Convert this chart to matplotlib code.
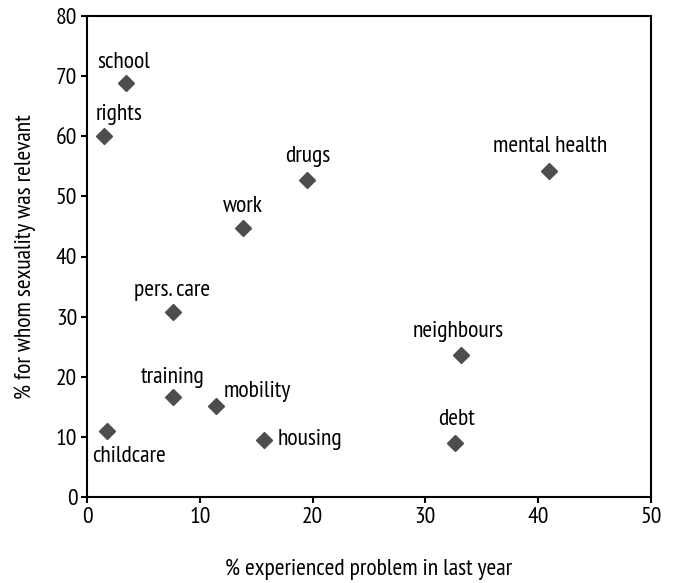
import matplotlib
matplotlib.use('Agg')
import matplotlib.pyplot as plt

plt.rcParams['font.family'] = ['PT Sans Narrow', 'DejaVu Sans']

# problem areas
labels = ['school', 'rights', 'drugs', 'work', 'pers. care', 'neighbours',
          'mental health', 'debt', 'training', 'mobility', 'housing', 'childcare']
# % experienced problem in last year
experienced = [3.5, 1.5, 19.5, 13.8, 7.6, 33.2, 41.0, 32.6, 7.6, 11.4, 15.7, 1.8]
# % for whom sexuality was relevant
relevant = [68.9, 60.0, 52.7, 44.8, 30.8, 23.6, 54.2, 9.0, 16.6, 15.1, 9.5, 11.0]

# label placement (pixel offsets from the marker, alignment)
offsets = {
    'school': (-3, 15, 'center'),
    'rights': (15, 16, 'center'),
    'drugs': (1, 18, 'center'),
    'work': (0, 16, 'center'),
    'pers. care': (-1, 16, 'center'),
    'neighbours': (-3, 18, 'center'),
    'mental health': (1, 19, 'center'),
    'debt': (2, 18, 'center'),
    'training': (0, 14, 'center'),
    'mobility': (8, 9, 'left'),
    'housing': (14, -5, 'left'),
    'childcare': (22, -31, 'center'),
}

fig = plt.figure(figsize=(6.76, 5.83), dpi=100)
ax = fig.add_axes([87/676, 86/583, 564/676, 481/583])

ax.plot(experienced, relevant, linestyle='none', marker='D', markersize=8.5,
        color='#4d4d4d', markeredgecolor='#4d4d4d', clip_on=False)

fs = 17
for lab, x, y in zip(labels, experienced, relevant):
    dx, dy, ha = offsets[lab]
    ax.annotate(lab, (x, y), xytext=(dx, dy), textcoords='offset pixels',
                ha=ha, va='baseline', fontsize=fs, color='black')

ax.set_xlim(0, 50)
ax.set_ylim(0, 80)
ax.set_xticks(range(0, 51, 10))
ax.set_yticks(range(0, 81, 10))
ax.tick_params(direction='out', length=4, width=1.5, labelsize=fs, pad=3)
for s in ax.spines.values():
    s.set_linewidth(1.5)

ax.set_xlabel('% experienced problem in last year', fontsize=fs, labelpad=22)
ax.set_ylabel('% for whom sexuality was relevant', fontsize=fs, labelpad=14)

fig.savefig('out.png', dpi=100)
